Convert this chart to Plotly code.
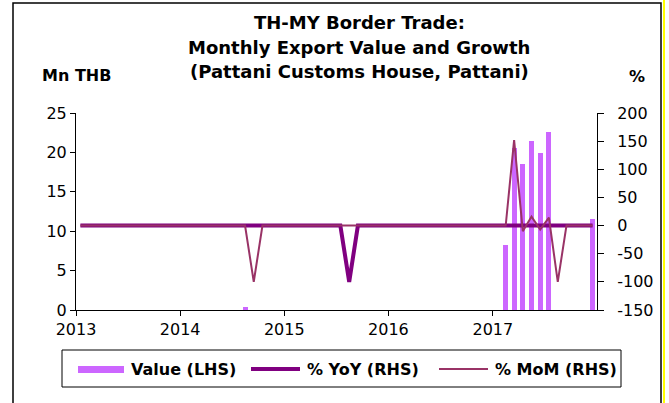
import plotly.graph_objects as go

# ---------------- data ----------------
years = [2013, 2014, 2015, 2016, 2017]
month_labels = [f"{y}-{m:02d}" for y in years for m in range(1, 13)]

value_2013 = [0, 0, 0, 0, 0, 0, 0, 0, 0, 0, 0, 0]
value_2014 = [0, 0, 0, 0, 0, 0, 0, 0.4, 0, 0, 0, 0]
value_2015 = [0, 0, 0, 0, 0, 0, 0, 0, 0, 0, 0, 0]
value_2016 = [0, 0, 0, 0, 0, 0, 0, 0, 0, 0, 0, 0]
value_2017 = [0, 8.2, 20.6, 18.5, 21.4, 19.9, 22.6, 0, 0, 0, 0, 11.6]

yoy_2013 = [0, 0, 0, 0, 0, 0, 0, 0, 0, 0, 0, 0]
yoy_2014 = [0, 0, 0, 0, 0, 0, 0, 0, 0, 0, 0, 0]
yoy_2015 = [0, 0, 0, 0, 0, 0, 0, -100, 0, 0, 0, 0]
yoy_2016 = [0, 0, 0, 0, 0, 0, 0, 0, 0, 0, 0, 0]
yoy_2017 = [0, 0, 0, 0, 0, 0, 0, 0, 0, 0, 0, 0]

mom_2013 = [0, 0, 0, 0, 0, 0, 0, 0, 0, 0, 0, 0]
mom_2014 = [0, 0, 0, 0, 0, 0, 0, 0, -100, 0, 0, 0]
mom_2015 = [0, 0, 0, 0, 0, 0, 0, 0, 0, 0, 0, 0]
mom_2016 = [0, 0, 0, 0, 0, 0, 0, 0, 0, 0, 0, 0]
mom_2017 = [0, 0, 152, -10, 16, -7, 14, -100, 0, 0, 0, 0]

values = value_2013 + value_2014 + value_2015 + value_2016 + value_2017
yoy = yoy_2013 + yoy_2014 + yoy_2015 + yoy_2016 + yoy_2017
mom = mom_2013 + mom_2014 + mom_2015 + mom_2016 + mom_2017

year_ticks = [f"{y}-01-01" for y in years]
year_labels = [str(y) for y in years]
lhs_ticks = [0, 5, 10, 15, 20, 25]
rhs_ticks = [-150, -100, -50, 0, 50, 100, 150, 200]
rhs_labels = ["-150", "-100", "-50", "0", "50", "100", "150", "200"]

# ---------------- styling ----------------
W, H = 669, 403
L, R, T, B = 76, 72, 113, 93
PW, PH = W - L - R, H - T - B
FONT = "DejaVu Sans"
BAR_C = "#CC66FF"
YOY_C = "#800080"
MOM_C = "#993366"


def px(x):
    return (x - L) / PW


def py(y):
    return (H - B - y) / PH


fig = go.Figure()
fig.add_trace(go.Bar(
    x=month_labels, y=values, name="Value (LHS)",
    xperiod="M1", xperiodalignment="middle",
    width=17.5 * 86400000, marker=dict(color=BAR_C, line=dict(width=0)),
    yaxis="y", showlegend=False,
))
fig.add_trace(go.Scatter(
    x=month_labels, y=yoy, name="% YoY (RHS)", mode="lines",
    xperiod="M1", xperiodalignment="middle",
    line=dict(color=YOY_C, width=4), yaxis="y2", showlegend=False,
))
fig.add_trace(go.Scatter(
    x=month_labels, y=mom, name="% MoM (RHS)", mode="lines",
    xperiod="M1", xperiodalignment="middle",
    line=dict(color=MOM_C, width=2), yaxis="y2", showlegend=False,
))

axis_font = dict(family=FONT, size=16, color="black")
fig.update_layout(
    width=W, height=H,
    margin=dict(l=L, r=R, t=T, b=B, pad=0),
    paper_bgcolor="white", plot_bgcolor="white",
    bargap=0,
    xaxis=dict(
        type="date", range=["2013-01-01", "2018-01-01"],
        tickmode="array", tickvals=year_ticks, ticktext=year_labels,
        ticks="outside", ticklen=5, tickcolor="black",
        showline=True, linecolor="black", linewidth=1,
        showgrid=False, zeroline=False, tickfont=axis_font,
    ),
    yaxis=dict(
        range=[0, 25], tickmode="array", tickvals=lhs_ticks,
        ticktext=[str(v) for v in lhs_ticks],
        ticks="outside", ticklen=5, tickcolor="black",
        showline=True, linecolor="black", linewidth=1,
        showgrid=False, zeroline=False, tickfont=axis_font,
    ),
    yaxis2=dict(
        range=[-150, 200], tickmode="array", tickvals=rhs_ticks, ticktext=rhs_labels,
        overlaying="y", side="right",
        ticks="outside", ticklen=6, tickcolor="black",
        showline=True, linecolor="black", linewidth=1,
        showgrid=False, zeroline=False, tickfont=axis_font,
        ticklabelstandoff=10,
    ),
    showlegend=False,
)

shapes = []
# outer chart frame
shapes.append(dict(type="rect", xref="paper", yref="paper",
                   x0=px(13), x1=px(661), y0=py(410), y1=py(3),
                   line=dict(color="black", width=1.5), layer="below"))
# yellow edge at right
shapes.append(dict(type="line", xref="paper", yref="paper",
                   x0=px(664), x1=px(664), y0=py(0), y1=py(403),
                   line=dict(color="#FFFF00", width=2)))
# legend box
shapes.append(dict(type="rect", xref="paper", yref="paper",
                   x0=px(62), x1=px(621), y0=py(387), y1=py(350),
                   line=dict(color="black", width=1)))
# legend swatches
shapes.append(dict(type="rect", xref="paper", yref="paper",
                   x0=px(78), x1=px(124), y0=py(373), y1=py(366),
                   fillcolor=BAR_C, line=dict(width=0)))
shapes.append(dict(type="line", xref="paper", yref="paper",
                   x0=px(251), x1=px(300), y0=py(369), y1=py(369),
                   line=dict(color=YOY_C, width=4)))
shapes.append(dict(type="line", xref="paper", yref="paper",
                   x0=px(439), x1=px(488), y0=py(369), y1=py(369),
                   line=dict(color=MOM_C, width=2)))

ann = []
title_lines = ["TH-MY Border Trade:", "Monthly Export Value and Growth",
               "(Pattani Customs House, Pattani)"]
for txt, yy in zip(title_lines, [22, 47, 72]):
    ann.append(dict(text=f"<b>{txt}</b>", xref="paper", yref="paper",
                    x=px(359), y=py(yy), xanchor="center", yanchor="middle",
                    showarrow=False, font=dict(family=FONT, size=18, color="black")))
ann.append(dict(text="<b>Mn THB</b>", xref="paper", yref="paper",
                x=px(40), y=py(75), xanchor="left", yanchor="middle",
                showarrow=False, font=dict(family=FONT, size=16, color="black")))
ann.append(dict(text="<b>%</b>", xref="paper", yref="paper",
                x=px(637), y=py(77), xanchor="center", yanchor="middle",
                showarrow=False, font=dict(family=FONT, size=16, color="black")))
for txt, xx in [("Value (LHS)", 129), ("% YoY (RHS)", 305), ("% MoM (RHS)", 493)]:
    ann.append(dict(text=f"<b>{txt}</b>", xref="paper", yref="paper",
                    x=px(xx), y=py(369), xanchor="left", yanchor="middle",
                    showarrow=False, font=dict(family=FONT, size=16, color="black")))

fig.update_layout(shapes=shapes, annotations=ann)
fig.write_html(
    "out.html",
    config={"displayModeBar": False},
    post_script="document.body.style.margin='0';document.body.style.overflow='hidden';",
)
